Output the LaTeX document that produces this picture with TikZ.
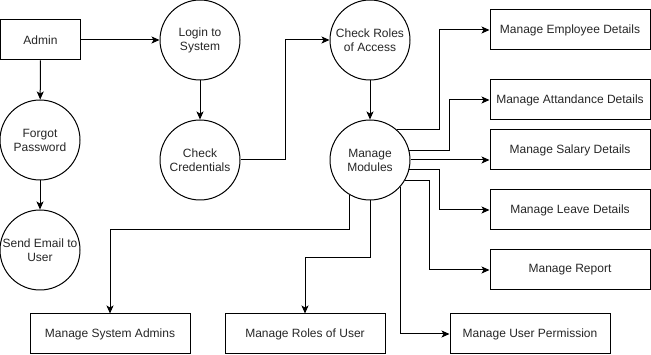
\documentclass[tikz,border=0pt]{standalone}
\usepackage{fontspec}
\setmainfont{Liberation Sans}
\usetikzlibrary{arrows.meta,calc}
\begin{document}
\begin{tikzpicture}[x=1pt,y=-1pt,
  lbl/.style={font=\fontsize{12}{14}\selectfont,text=black!85},
  proc/.style={lbl,circle,draw,line width=1pt,minimum size=80pt,inner sep=0pt,align=center},
  ent/.style={lbl,rectangle,draw,line width=1pt,minimum width=160pt,minimum height=40pt,inner sep=0pt},
  flow/.style={draw,line width=1pt,-{Stealth[length=8pt,width=7pt,inset=2pt]}}]
\useasboundingbox (0,0) rectangle (651,355);

% processes and external entities
\node[ent,minimum width=80pt] (admin) at (40.5,40) {Admin};
\node[proc] (login)  at (200,40)  {Login to\\System};
\node[proc] (forgot) at (40,140)  {Forgot\\Password};
\node[proc] (email)  at (40,250)  {Send Email to\\User};
\node[proc] (cred)   at (200,160) {Check\\Credentials};
\node[proc] (roles)  at (370,40)  {Check Roles\\of Access};
\node[proc] (mods)   at (370,160) {Manage\\Modules};

\node[ent] (emp)   at (570,30)  {Manage Employee Details};
\node[ent] (att)   at (570,100) {Manage Attandance Details};
\node[ent] (sal)   at (570,150) {Manage Salary Details};
\node[ent] (leave) at (570,210) {Manage Leave Details};
\node[ent] (rep)   at (570,270) {Manage Report};
\node[ent] (perm)  at (530,334) {Manage User Permission};
\node[ent] (sysad) at (110,334) {Manage System Admins};
\node[ent] (ruser) at (305,334) {Manage Roles of User};

% data flows
\draw[flow] (admin) -- (login);
\draw[flow] (admin) -- (forgot);
\draw[flow] (forgot) -- (email);
\draw[flow] (login) -- (cred);
\draw[flow] (cred.east) -- ++(45,0) |- (roles.west);
\draw[flow] (roles) -- (mods);

\draw[flow] (mods.48.6) -| ($(emp.west)+(-50,0)$) -- (emp.west);
\draw[flow] (mods.14.5) -| ($(att.west)+(-40,0)$) -- (att.west);
\draw[flow] (mods.east) -- (mods.east -| sal.west);
\draw[flow] (mods.-14.5) -| ($(leave.west)+(-50,0)$) -- (leave.west);
\draw[flow] (mods.-30) -| ($(rep.west)+(-60,0)$) -- (rep.west);
\draw[flow] (mods.-41.4) |- (perm.west);
\draw[flow] (mods.south) -- ++(0,57) -| (ruser.north);
\draw[flow] (mods.-120) |- ($(sysad.north)+(0,-84)$) -- (sysad.north);
\end{tikzpicture}
\end{document}
